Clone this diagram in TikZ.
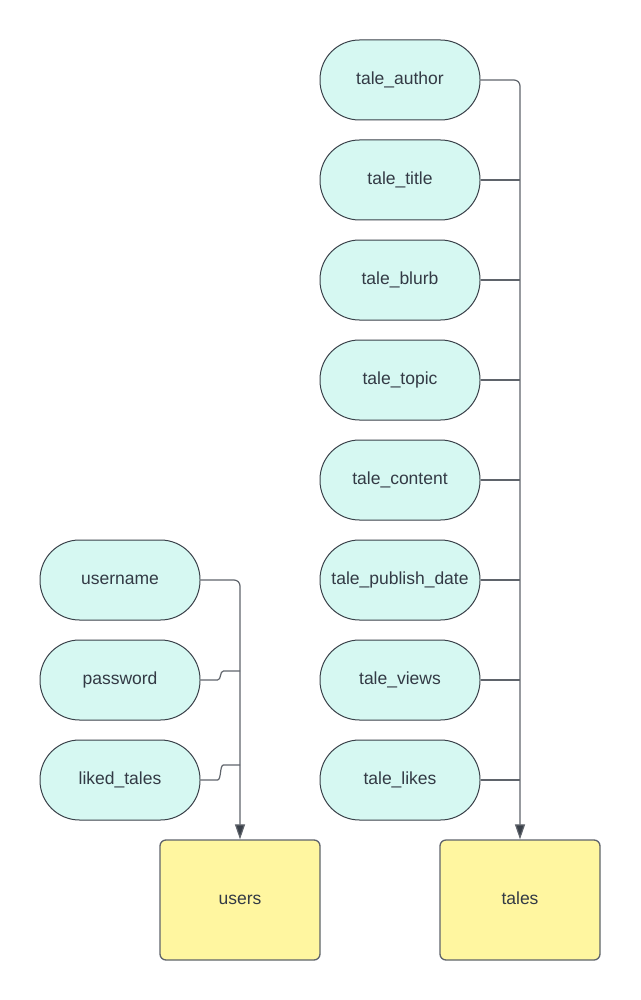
\documentclass[tikz,border=0pt]{standalone}
\usepackage{fontspec}
\setmainfont{Liberation Sans}
\usetikzlibrary{arrows.meta}
\definecolor{pillfill}{HTML}{D6F8F2}
\definecolor{boxfill}{HTML}{FFF6A0}
\definecolor{edge}{HTML}{3A414A}
\definecolor{wire}{HTML}{5F646B}
\definecolor{txt}{HTML}{333A45}
\begin{document}
\begin{tikzpicture}[x=1pt, y=-1pt,
    field/.style={draw=edge, fill=pillfill, line width=1pt, rounded corners=39.5pt,
        minimum width=160pt, minimum height=80pt, inner sep=0pt, text=txt,
        text height=9pt, text depth=0pt, font=\fontsize{17.5}{20}\selectfont},
    table/.style={draw=wire, fill=boxfill, line width=1.3pt, rounded corners=6pt,
        minimum width=160pt, minimum height=120pt, inner sep=0pt, text=txt,
        text height=9pt, text depth=0pt, font=\fontsize{17.5}{20}\selectfont},
    link/.style={draw=wire, line width=1.2pt},
    linkarrow/.style={link, -{Triangle[width=10pt,length=15pt,fill=edge]}}]
    \useasboundingbox (0,0) rectangle (640,1000);
    % users side
    \node[field] (username) at (120,580) {username};
    \node[field] (password) at (120,680) {password};
    \node[field] (liked) at (120,780) {liked\_tales};
    \node[table] (users) at (240,900) {users};
    % tales side
    \node[field] (author) at (400,80) {tale\_author};
    \node[field] (title) at (400,180) {tale\_title};
    \node[field] (blurb) at (400,280) {tale\_blurb};
    \node[field] (topic) at (400,380) {tale\_topic};
    \node[field] (content) at (400,480) {tale\_content};
    \node[field] (pubdate) at (400,580) {tale\_publish\_date};
    \node[field] (views) at (400,680) {tale\_views};
    \node[field] (likes) at (400,780) {tale\_likes};
    \node[table] (tales) at (520,900) {tales};
    % connectors
    \draw[linkarrow, rounded corners=6pt] (username.east) -| (users.north);
    \draw[link] (password.east) -- ++(17,0) .. controls +(4,0) and +(-4,0) .. ++(6,-9) -- (users.north |- {0,671});
    \draw[link] (liked.east) -- ++(17,0) .. controls +(4,0) and +(-4,0) .. ++(6,-15) -- (users.north |- {0,765});
    \draw[linkarrow, rounded corners=6pt] (author.east) -| (tales.north);
    \draw[link] (title.east) -- (title.east -| tales.north);
    \draw[link] (blurb.east) -- (blurb.east -| tales.north);
    \draw[link] (topic.east) -- (topic.east -| tales.north);
    \draw[link] (content.east) -- (content.east -| tales.north);
    \draw[link] (pubdate.east) -- (pubdate.east -| tales.north);
    \draw[link] (views.east) -- (views.east -| tales.north);
    \draw[link] (likes.east) -- (likes.east -| tales.north);
\end{tikzpicture}
\end{document}
